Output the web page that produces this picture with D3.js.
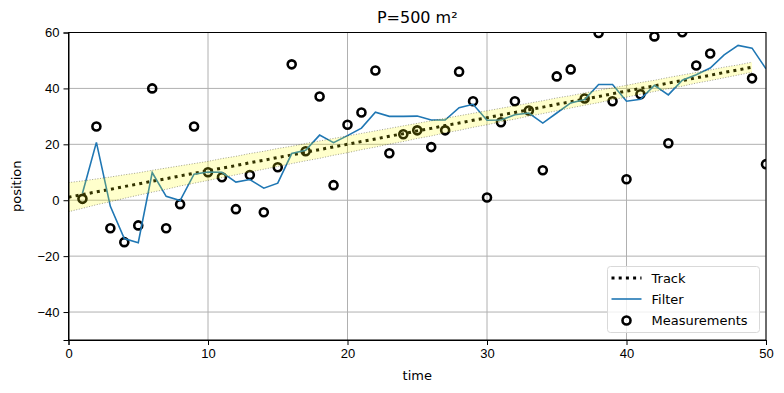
<!DOCTYPE html>
<html>
<head>
<meta charset="utf-8">
<script src="https://cdn.jsdelivr.net/npm/d3@7"></script>
<style>
  body { margin: 0; background: #fff; }
  svg { font-family: "DejaVu Sans", sans-serif; }
  .axis text { font-size: 13px; fill: #000; }
  .axis path, .axis line { stroke: #000; }
  .grid line { stroke: #b0b0b0; stroke-width: 1; }
</style>
</head>
<body>
<div id="chart"></div>
<script>
var margin = {top: 32.5, bottom: 53, left: 68.5, right: 18};
var width = 784 - margin.left - margin.right;
var height = 393 - margin.top - margin.bottom;

// measurements at t = 1..50
var measTimes = d3.range(1, 51);
var measurements = [0.5, 26.4, -10, -15, -9, 40, -10, -1.4, 26.4, 10,
                    8.2, -3.2, 9, -4.3, 11.8, 48.6, 17.5, 37.1, 5.4, 27,
                    31.4, 46.4, 16.8, 23.6, 25, 19, 25, 46, 35.4, 1,
                    27.9, 35.4, 32.1, 10.7, 44.3, 46.8, 36.4, 59.8, 35.4, 7.5,
                    37.9, 58.6, 20.4, 60.1, 48.2, 52.5, 64, 62, 43.6, 12.9];

// filter output at t = 1..50
var filter = [2.5, 20.7, -2.2, -13.7, -15.2, 9.9, 1.4, -0.1, 9.3, 10.1,
              10, 6.5, 7.4, 4.3, 6.1, 16.7, 17.9, 23.3, 20.6, 23.1,
              25.8, 31.5, 30, 30, 30.1, 28.7, 28.7, 33.1, 34.3, 28.6,
              28.7, 30.6, 31.2, 27.6, 31.2, 34.8, 36, 41.4, 41.4, 35.4,
              36.1, 41.1, 37.7, 42.9, 44.9, 47.3, 52, 55.4, 54.4, 47];

// actual track at t = 0..49
var track = [1.1, 2.0, 3.0, 3.9, 4.9, 5.8, 6.8, 7.7, 8.7, 9.6,
             10.5, 11.5, 12.4, 13.4, 14.3, 15.3, 16.2, 17.2, 18.1, 19.1,
             20.0, 21.0, 21.9, 22.9, 23.8, 24.8, 25.7, 26.7, 27.6, 28.6,
             29.5, 30.5, 31.4, 32.4, 33.3, 34.3, 35.2, 36.2, 37.1, 38.1,
             39.0, 40.0, 40.9, 41.9, 42.8, 43.8, 44.7, 45.7, 46.6, 47.6];

// filter std dev at t = 0..49
var stdDev = [5.2, 4.9, 4.6, 4.4, 4.2, 4.0, 3.9, 3.8, 3.6, 3.5,
              3.4, 3.4, 3.3, 3.3, 3.2, 3.2, 3.1, 3.1, 3.1, 3.0,
              3.0, 2.9, 2.9, 2.8, 2.8, 2.7, 2.7, 2.6, 2.6, 2.5,
              2.5, 2.4, 2.4, 2.3, 2.3, 2.3, 2.2, 2.2, 2.2, 2.1,
              2.1, 2.1, 2.0, 2.0, 2.0, 1.9, 1.9, 1.9, 1.8, 1.8];

var xTicks = [0, 10, 20, 30, 40, 50];
var yTicks = [-40, -20, 0, 20, 40, 60];

var svg = d3.select("#chart")
            .append("svg")
            .attr("width", 784)
            .attr("height", 393);

var xScale = d3.scaleLinear().domain([0, 50]).range([0, width]);
var yScale = d3.scaleLinear().domain([-50, 60]).range([height, 0]);

var g = svg.append("g")
           .attr("transform", "translate(" + margin.left + "," + margin.top + ")");

g.append("clipPath").attr("id", "clip")
  .append("rect").attr("width", width).attr("height", height);

//Grid
g.append("g").attr("class", "grid")
  .selectAll("line").data(xTicks).enter().append("line")
  .attr("x1", function(d){ return xScale(d); })
  .attr("x2", function(d){ return xScale(d); })
  .attr("y1", 0).attr("y2", height);

g.append("g").attr("class", "grid")
  .selectAll("line").data(yTicks).enter().append("line")
  .attr("y1", function(d){ return yScale(d); })
  .attr("y2", function(d){ return yScale(d); })
  .attr("x1", 0).attr("x2", width);

var plot = g.append("g").attr("clip-path", "url(#clip)");

//Track
var trackLine = d3.line()
  .x(function(d, i){ return xScale(i); })
  .y(function(d){ return yScale(d); });

plot.append("path")
  .datum(track)
  .attr("d", trackLine)
  .attr("fill", "none")
  .attr("stroke", "#000")
  .attr("stroke-width", 3)
  .attr("stroke-dasharray", "3,4.2");

//Measurements
plot.selectAll(".meas")
  .data(measurements)
  .enter().append("circle")
  .attr("class", "meas")
  .attr("cx", function(d, i){ return xScale(measTimes[i]); })
  .attr("cy", function(d){ return yScale(d); })
  .attr("r", 4)
  .attr("fill", "none")
  .attr("stroke", "#000")
  .attr("stroke-width", 2.6);

//Filter
plot.append("path")
  .datum(filter)
  .attr("d", d3.line()
    .x(function(d, i){ return xScale(measTimes[i]); })
    .y(function(d){ return yScale(d); }))
  .attr("fill", "none")
  .attr("stroke", "#1f77b4")
  .attr("stroke-width", 1.6);

//Std band
var upper = track.map(function(d, i){ return d + stdDev[i]; });
var lower = track.map(function(d, i){ return d - stdDev[i]; });

[upper, lower].forEach(function(arr){
  plot.append("path")
    .datum(arr)
    .attr("d", trackLine)
    .attr("fill", "none")
    .attr("stroke", "rgba(0,0,0,0.4)")
    .attr("stroke-width", 1)
    .attr("stroke-dasharray", "1,1.65");
});

plot.append("path")
  .datum(track)
  .attr("d", d3.area()
    .x(function(d, i){ return xScale(i); })
    .y0(function(d, i){ return yScale(lower[i]); })
    .y1(function(d, i){ return yScale(upper[i]); }))
  .attr("fill", "yellow")
  .attr("fill-opacity", 0.2);

//Axes
g.append("g").attr("class", "axis")
  .attr("transform", "translate(0," + height + ")")
  .call(d3.axisBottom(xScale).tickValues(xTicks).tickSize(5).tickPadding(4).tickFormat(d3.format("d")));

g.append("g").attr("class", "axis")
  .call(d3.axisLeft(yScale).tickValues(yTicks).tickSize(5).tickPadding(4)
        .tickFormat(function(d){ return d < 0 ? "\u2212" + Math.abs(d) : d; }));

g.append("rect")
  .attr("width", width).attr("height", height)
  .attr("fill", "none").attr("stroke", "#000").attr("stroke-width", 1);

//Labels
svg.append("text")
  .attr("x", margin.left + width / 2)
  .attr("y", 23)
  .attr("text-anchor", "middle")
  .style("font-size", "16px")
  .text("P=500 m\u00b2");

svg.append("text")
  .attr("x", margin.left + width / 2)
  .attr("y", 380)
  .attr("text-anchor", "middle")
  .style("font-size", "13px")
  .text("time");

svg.append("text")
  .attr("transform", "translate(21," + (margin.top + height / 2) + ") rotate(-90)")
  .attr("text-anchor", "middle")
  .style("font-size", "13px")
  .text("position");

//Legend
var legend = svg.append("g").attr("transform", "translate(607.5,266.5)");

legend.append("rect")
  .attr("width", 152).attr("height", 66).attr("rx", 3)
  .attr("fill", "rgba(255,255,255,0.8)")
  .attr("stroke", "#d9d9d9");

var legendItems = ["Track", "Filter", "Measurements"];

legend.selectAll(".lbl")
  .data(legendItems)
  .enter().append("text")
  .attr("x", 44)
  .attr("y", function(d, i){ return 11.5 + i * 21.3; })
  .attr("dy", "0.35em")
  .style("font-size", "13px")
  .text(function(d){ return d; });

legend.append("line")
  .attr("x1", 4).attr("x2", 34).attr("y1", 11.5).attr("y2", 11.5)
  .attr("stroke", "#000").attr("stroke-width", 3)
  .attr("stroke-dasharray", "3,4.2");

legend.append("line")
  .attr("x1", 4).attr("x2", 34).attr("y1", 32.5).attr("y2", 32.5)
  .attr("stroke", "#1f77b4").attr("stroke-width", 1.6);

legend.append("circle")
  .attr("cx", 19).attr("cy", 54).attr("r", 4)
  .attr("fill", "none").attr("stroke", "#000").attr("stroke-width", 2.6);
</script>
</body>
</html>
